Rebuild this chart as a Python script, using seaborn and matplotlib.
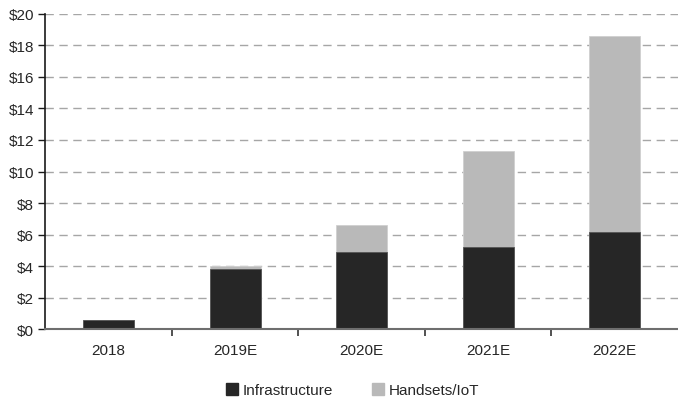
import seaborn as sns
import matplotlib.pyplot as plt
from matplotlib.ticker import FixedLocator, FuncFormatter
from matplotlib.patches import Patch
import pandas as pd

# valores (US$ bi)
anos = ['2018', '2019E', '2020E', '2021E', '2022E']
infra = [0.6, 3.8, 4.9, 5.2, 6.2]
handsets = [0.0, 0.25, 1.7, 6.1, 12.4]

cor_infra = '#262626'
cor_hand = '#b9b9b9'

df = pd.DataFrame({'ano': anos, 'infra': infra, 'handsets': handsets})
df['total'] = df['infra'] + df['handsets']

sns.set_style('white')
plt.rcParams['font.family'] = ['Liberation Sans Narrow', 'Liberation Sans', 'DejaVu Sans']

fig = plt.figure(figsize=(6.78, 4.06), dpi=100)
ax = fig.add_axes([0.067, 0.186, 0.933, 0.778])

# barras empilhadas: total em cinza, infra por cima
sns.barplot(x='ano', y='total', data=df, color=cor_hand, width=0.4, saturation=1,
            edgecolor='#d0d0d0', linewidth=0.6, ax=ax)
sns.barplot(x='ano', y='infra', data=df, color=cor_infra, width=0.4, saturation=1,
            edgecolor='#555555', linewidth=0.6, ax=ax)

ax.set_ylim(0, 20)
ax.set_xlim(-0.5, 4.5)
ax.set_yticks(range(0, 21, 2))
ax.yaxis.set_major_formatter(FuncFormatter(lambda v, p: '$%d' % v))
ax.yaxis.grid(True, linestyle=(0, (6, 4)), color='#a6a6a6', linewidth=1)
ax.set_axisbelow(True)
ax.set_xlabel('')
ax.set_ylabel('')

for s in ['top', 'right']:
    ax.spines[s].set_visible(False)
ax.spines['left'].set_color('#1a1a1a')
ax.spines['bottom'].set_color('#6e6e6e')
ax.spines['left'].set_linewidth(1.2)
ax.spines['bottom'].set_linewidth(1.5)

ax.tick_params(axis='y', which='major', direction='out', length=5, width=1, color='#1a1a1a',
               left=True, labelsize=11, pad=3)
ax.tick_params(axis='x', which='major', length=0, labelsize=11, pad=10)
ax.xaxis.set_minor_locator(FixedLocator([0.5, 1.5, 2.5, 3.5]))
ax.tick_params(axis='x', which='minor', direction='out', length=5, width=1.2, color='#333333', bottom=True)

handles = [Patch(color=cor_infra, label='Infrastructure'), Patch(color=cor_hand, label='Handsets/IoT')]
fig.legend(handles=handles, loc='lower center', ncol=2, frameon=False, fontsize=11,
           bbox_to_anchor=(0.52, -0.015), handlelength=0.8, handleheight=0.8, handletextpad=0.3,
           columnspacing=2.5)

plt.savefig('out.png', dpi=100)
